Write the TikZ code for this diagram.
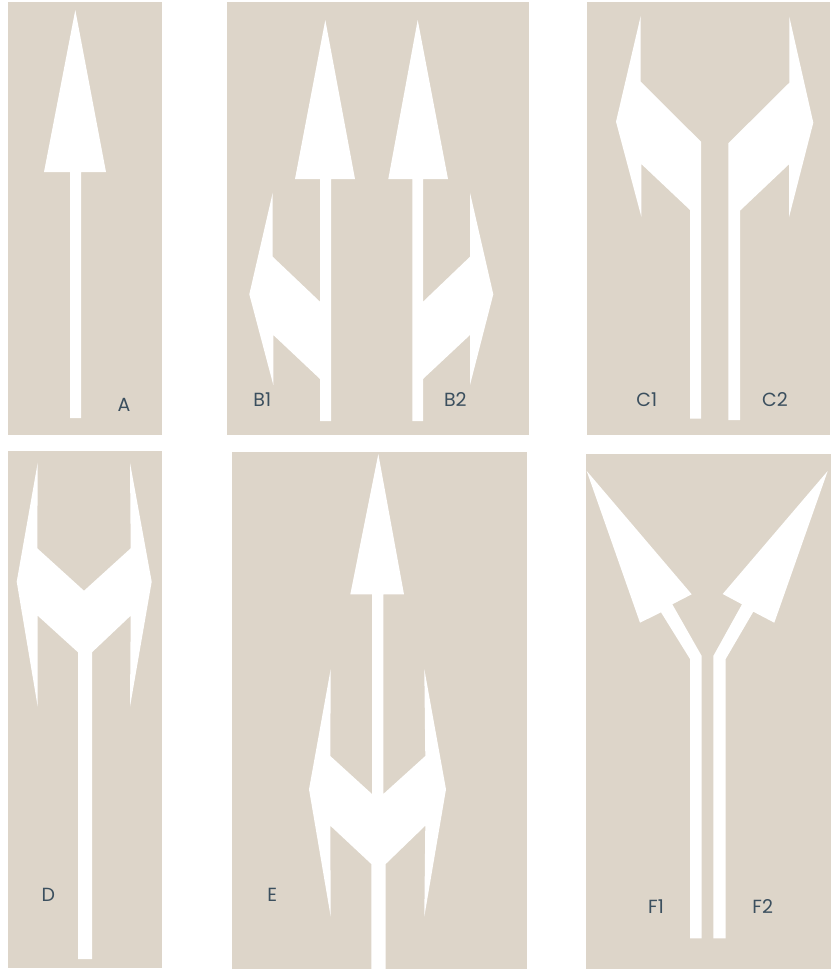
\documentclass[tikz,border=0pt]{standalone}
\usepackage{fontspec}
\setmainfont{Poppins}
\definecolor{sand}{RGB}{221,213,201}
\definecolor{slate}{RGB}{59,79,94}

\begin{document}
\begin{tikzpicture}[
      x=1pt, y=-1pt,
      panel/.style={fill=sand},
      paint/.style={fill=white},
      lbl/.style={font=\fontsize{19}{19}\selectfont, text=slate,
                  inner sep=0pt},
    ]
    \useasboundingbox (0,0) rectangle (831,969);

    % ── Panels ──────────────────────────────────────────────
    \fill[panel] (8,2)   rectangle (162,435);
    \fill[panel] (227,2) rectangle (529,435);
    \fill[panel] (587,2) rectangle (830,435);
    \fill[panel] (8,451)   rectangle (162,968);
    \fill[panel] (232,452) rectangle (527,969);
    \fill[panel] (586,454) rectangle (831,969);

    % ── A: straight ahead ───────────────────────────────────
    \fill[paint] (75.3,10) -- (106,172) -- (81,172) -- (81,418)
      -- (70,418) -- (70,172) -- (44,172) -- cycle;
    \node[lbl] (labA) at (124,405) {A};

    % ── B1 / B2: straight + side ────────────────────────────
    \fill[paint] (325.3,20) -- (355,179) -- (331,179) -- (331,421)
      -- (320,421) -- (320,179) -- (295,179) -- cycle;
    \fill[paint] (272.7,192.7) -- (272.7,256.7) -- (320,301.7)
      -- (320,379) -- (273.3,335) -- (273.3,385) -- (249.3,294.3) -- cycle;
    \fill[paint] (417.7,20) -- (448,179) -- (423,179) -- (423,421)
      -- (412.3,421) -- (412.3,179) -- (388.3,179) -- cycle;
    \fill[paint] (470,192.7) -- (470,256.7) -- (423,301.7)
      -- (423,379) -- (470,335) -- (470,385) -- (493.3,294.3) -- cycle;
    \node[lbl] (labBa) at (262.3,399.3) {B1};
    \node[lbl] (labBb) at (455.3,399.3) {B2};

    % ── C1 / C2: split sideways ─────────────────────────────
    \fill[paint] (640.7,16) -- (640.7,81.7) -- (701,141.7) -- (701,418.7)
      -- (690,418.7) -- (690,210) -- (641.3,164) -- (641.3,216.7)
      -- (616,121.7) -- cycle;
    \fill[paint] (789.3,16.7) -- (789.3,82.7) -- (728.3,143.3) -- (728.3,420)
      -- (740,420) -- (740,210.7) -- (789,164.3) -- (789,217.3)
      -- (813.3,122.7) -- cycle;
    \node[lbl] (labCa) at (646.7,400) {C1};
    \node[lbl] (labCb) at (775,400) {C2};

    % ── D: left + right ─────────────────────────────────────
    \fill[paint] (37.7,462.7) -- (37.3,548.3) -- (84,590.7) -- (130.7,548.3)
      -- (130,462.7) -- (151.7,581.7) -- (130,706.7) -- (130.7,615.7)
      -- (92,652.3) -- (92,959) -- (78,959) -- (78,652.3) -- (37.7,615.7)
      -- (37.7,706.7) -- (16.7,581.7) -- cycle;
    \node[lbl] (labD) at (48.3,895) {D};

    % ── E: straight + left + right ──────────────────────────
    \fill[paint] (378.3,454) -- (404,594.3) -- (383.3,594.3) -- (383.3,794)
      -- (425.3,756) -- (424.3,669) -- (446,789.3) -- (424.3,916.7)
      -- (425.3,825.7) -- (385.7,864) -- (385.7,969) -- (371.3,969)
      -- (371.3,864) -- (330.3,825.7) -- (330.7,916.7) -- (309,789.3)
      -- (330.7,669) -- (330.3,756) -- (372,794) -- (372,594.3)
      -- (350.3,594.3) -- cycle;
    \node[lbl] (labE) at (272.3,895) {E};

    % ── F1 / F2: fork ───────────────────────────────────────
    \fill[paint] (586.7,471) -- (691.7,594.3) -- (672.3,604.3) -- (701.7,656)
      -- (701.7,938.3) -- (690,938.3) -- (690,659) -- (661,612.3)
      -- (640,622.7) -- cycle;
    \fill[paint] (827.7,471) -- (774.3,622.7) -- (753.3,611.7) -- (725.7,659)
      -- (725.7,938.3) -- (713.3,938.3) -- (713.3,656) -- (742,604.3)
      -- (722.7,594) -- cycle;
    \node[lbl] (labFa) at (656,906.7) {F1};
    \node[lbl] (labFb) at (762.7,906.7) {F2};
  \end{tikzpicture}
\end{document}
